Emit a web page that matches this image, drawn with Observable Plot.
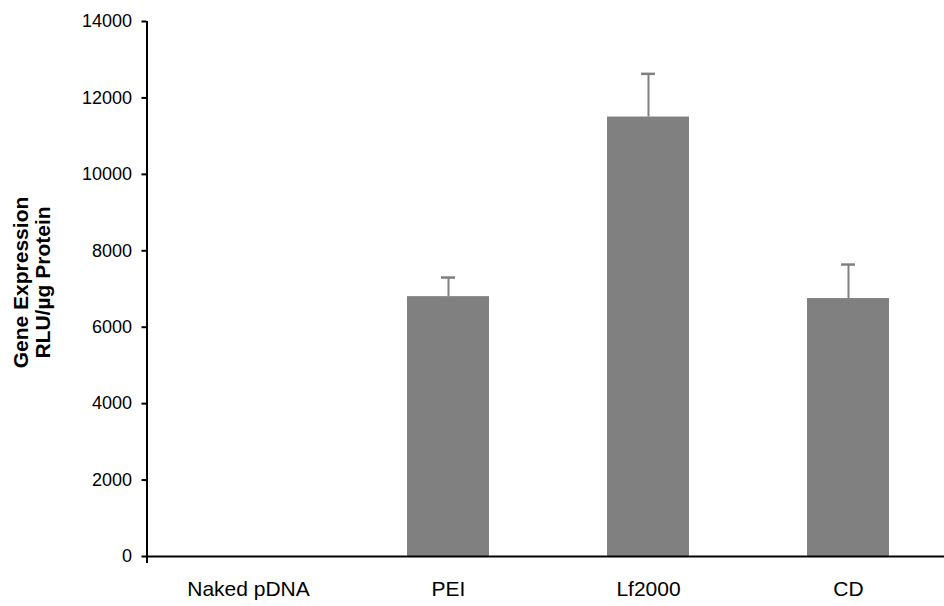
<!DOCTYPE html>
<html><head><meta charset="utf-8">
<script src="https://cdn.jsdelivr.net/npm/d3@7"></script>
<script src="https://cdn.jsdelivr.net/npm/@observablehq/plot@0.6"></script>
<style>body{margin:0;background:#fff}</style>
</head><body><div id="chart"></div>
<script>
const categories = ["Naked pDNA", "PEI", "Lf2000", "CD"];
const means = [0, 6800, 11500, 6750];
const errors = [0, 500, 1130, 890];
const yTicks = [0, 2000, 4000, 6000, 8000, 10000, 12000, 14000];
const yTitle = ["Gene Expression", "RLU/µg Protein"];

const data = categories.map((c, i) => ({category: c, mean: means[i], err: errors[i]}));
const withErr = data.filter(d => d.err > 0);

const W = 944, H = 606, ML = 146.5, MR = 0;
const chart = Plot.plot({
  width: W, height: H,
  marginTop: 21, marginBottom: 50, marginLeft: ML, marginRight: MR,
  style: {fontFamily: "'Liberation Sans', Arial, sans-serif", background: "#fff", color: "#000"},
  x: {domain: categories, range: [146.5, 948.5], paddingInner: 0.59, paddingOuter: 0.295, label: null},
  y: {domain: [0, 14000], label: null},
  marks: [
    Plot.barY(data, {x: "category", y: "mean", fill: "#808080"}),
    Plot.ruleX(withErr, {x: "category", y1: "mean", y2: d => d.mean + d.err, stroke: "#808080", strokeWidth: 2}),
    Plot.tickY(withErr, {x: "category", y: d => d.mean + d.err, stroke: "#808080", strokeWidth: 2.5, insetLeft: 34, insetRight: 34}),
    Plot.ruleY([0], {stroke: "#000", strokeWidth: 2}),
    Plot.ruleX([0], {x: null, stroke: "#000", strokeWidth: 2, insetBottom: -7, dx: ML - (ML + W - MR) / 2}),
    Plot.axisY({ticks: yTicks, tickFormat: d => String(d), tickSize: 5, tickPadding: 10, fontSize: 18, strokeWidth: 2, label: null}),
    Plot.axisX({tickSize: 0, tickPadding: 25, fontSize: 21, label: null}),
    Plot.text([yTitle.join("\n")], {frameAnchor: "left", rotate: -90, dx: -115, dy: -6.5, fontSize: 21, fontWeight: "bold", lineHeight: 1.05, textAnchor: "middle", lineAnchor: "middle", fill: "#000"})
  ]
});
document.getElementById("chart").append(chart);
</script>
</body></html>
